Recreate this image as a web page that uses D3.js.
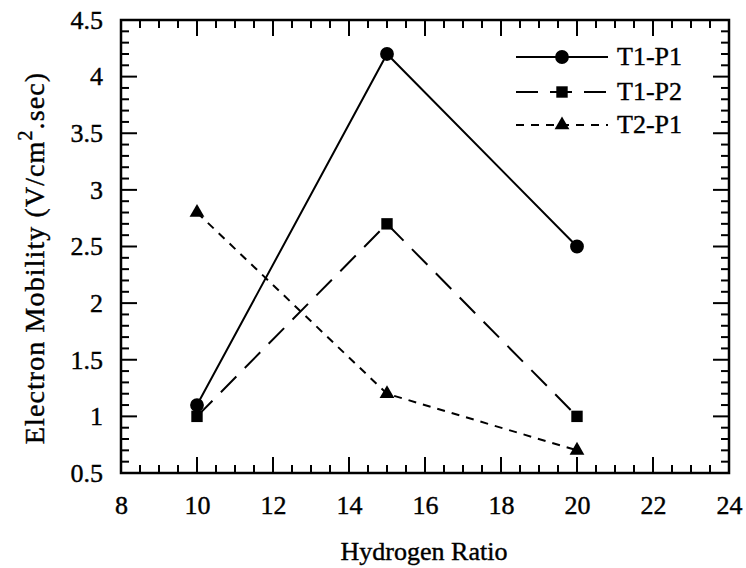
<!DOCTYPE html>
<html><head><meta charset="utf-8">
<script src="https://cdn.jsdelivr.net/npm/d3@7"></script>
<style>body{margin:0;background:#fff}</style>
</head><body>
<svg id="c" width="746" height="568"></svg>
<script>
const xValues = [10, 15, 20];
const seriesNames = ["T1-P1", "T1-P2", "T2-P1"];
const t1p1 = [1.1, 4.2, 2.5];
const t1p2 = [1.0, 2.7, 1.0];
const t2p1 = [2.8, 1.2, 0.7];
const xTicks = [8, 10, 12, 14, 16, 18, 20, 22, 24];
const yTicks = [0.5, 1, 1.5, 2, 2.5, 3, 3.5, 4, 4.5];

const svg = d3.select("#c");
const L = 121, R = 729, T = 20, B = 473;
const x = d3.scaleLinear().domain([8, 24]).range([L, R]);
const y = d3.scaleLinear().domain([0.5, 4.5]).range([B, T]);
const FS = 26;
const txt = sel => sel.attr("fill", "#000").attr("font-family", "Liberation Serif")
  .attr("stroke", "#000").attr("stroke-width", 0.4);

const g = svg.append("g");
g.append("rect").attr("x", L).attr("y", T).attr("width", R - L).attr("height", B - T)
  .attr("fill", "none").attr("stroke", "#000").attr("stroke-width", 2.5);

const xMinor = d3.range(8, 24.01, 0.5);
const yMinor = d3.range(0.5, 4.501, 0.1);
const isMajX = v => Math.abs(v / 2 - Math.round(v / 2)) < 1e-6;
const isMajY = v => Math.abs(v * 2 - Math.round(v * 2)) < 1e-6;

xMinor.forEach(v => {
  const len = isMajX(v) ? 16 : 8;
  g.append("line").attr("x1", x(v)).attr("x2", x(v)).attr("y1", B).attr("y2", B - len).attr("stroke", "#000").attr("stroke-width", 2);
  g.append("line").attr("x1", x(v)).attr("x2", x(v)).attr("y1", T).attr("y2", T + len).attr("stroke", "#000").attr("stroke-width", 2);
});
yMinor.forEach(v => {
  const len = isMajY(v) ? 16 : 8;
  g.append("line").attr("y1", y(v)).attr("y2", y(v)).attr("x1", L).attr("x2", L + len).attr("stroke", "#000").attr("stroke-width", 2);
  g.append("line").attr("y1", y(v)).attr("y2", y(v)).attr("x1", R).attr("x2", R - len).attr("stroke", "#000").attr("stroke-width", 2);
});

const xAxis = d3.axisBottom(x).tickValues(xTicks).tickSize(0).tickPadding(23).tickFormat(d3.format("d"));
const gx = svg.append("g").attr("transform", `translate(0,${B})`).call(xAxis);
gx.select(".domain").remove();
gx.attr("font-family", null).attr("font-size", null);
gx.selectAll("text").call(txt).attr("font-size", FS);

const yAxis = d3.axisLeft(y).tickValues(yTicks).tickSize(0).tickPadding(18).tickFormat(d => String(d));
const gy = svg.append("g").attr("transform", `translate(${L},0)`).call(yAxis);
gy.select(".domain").remove();
gy.attr("font-family", null).attr("font-size", null);
gy.selectAll("text").call(txt).attr("font-size", FS);

svg.append("text").attr("x", 424).attr("y", 560).attr("text-anchor", "middle")
  .call(txt).attr("font-size", FS).text("Hydrogen Ratio");

const yt = svg.append("text").attr("transform", `translate(44,258) rotate(-90)`)
  .attr("text-anchor", "middle").call(txt).attr("font-size", 28).attr("letter-spacing", 1.1);
yt.append("tspan").text("Electron Mobility (V/cm");
yt.append("tspan").attr("dy", -12).attr("font-size", 20).text("2");
yt.append("tspan").attr("dy", 12).text(".sec)");

const series = [
  {name: seriesNames[0], vals: t1p1, dash: null, sym: d3.symbolCircle, size: 150},
  {name: seriesNames[1], vals: t1p2, dash: "22,12", sym: d3.symbolSquare, size: 130},
  {name: seriesNames[2], vals: t2p1, dash: "8,7", sym: d3.symbolTriangle, size: 95}
];
const line = d3.line().x(d => x(d[0])).y(d => y(d[1]));
series.forEach(s => {
  const pts = xValues.map((xv, i) => [xv, s.vals[i]]);
  svg.append("path").attr("d", line(pts)).attr("fill", "none").attr("stroke", "#000")
    .attr("stroke-width", 2).attr("stroke-dasharray", s.dash);
  pts.forEach(p => {
    svg.append("path").attr("d", d3.symbol().type(s.sym).size(s.size)())
      .attr("transform", `translate(${x(p[0])},${y(p[1])})`).attr("fill", "#000");
  });
});

const lx1 = 516, lx2 = 608, ly = [57, 92, 125];
series.forEach((s, i) => {
  svg.append("line").attr("x1", lx1).attr("x2", lx2).attr("y1", ly[i]).attr("y2", ly[i])
    .attr("stroke", "#000").attr("stroke-width", 2).attr("stroke-dasharray", s.dash);
  svg.append("path").attr("d", d3.symbol().type(s.sym).size(s.size)())
    .attr("transform", `translate(${(lx1 + lx2) / 2},${ly[i]})`).attr("fill", "#000");
  svg.append("text").attr("x", 617).attr("y", ly[i] + 8)
    .call(txt).attr("font-size", FS).text(s.name);
});
</script>
</body></html>
